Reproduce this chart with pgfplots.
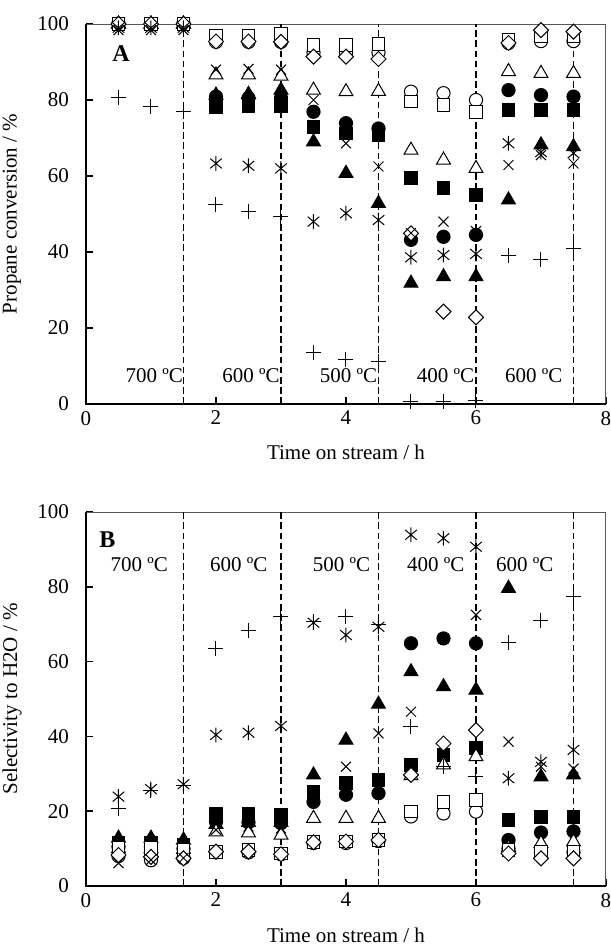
\documentclass[border=0pt]{standalone}
\usepackage{fontspec}
\setmainfont{Liberation Serif}
\usepackage{pgfplots}
\pgfplotsset{compat=1.18}
\usepackage{pgfplotstable}

\pgfdeclareplotmark{ast}{%
  \pgfpathmoveto{\pgfqpoint{0pt}{\pgfplotmarksize}}%
  \pgfpathlineto{\pgfqpoint{0pt}{-\pgfplotmarksize}}%
  \pgfpathmoveto{\pgfqpoint{-0.78\pgfplotmarksize}{0.66\pgfplotmarksize}}%
  \pgfpathlineto{\pgfqpoint{0.78\pgfplotmarksize}{-0.66\pgfplotmarksize}}%
  \pgfpathmoveto{\pgfqpoint{-0.78\pgfplotmarksize}{-0.66\pgfplotmarksize}}%
  \pgfpathlineto{\pgfqpoint{0.78\pgfplotmarksize}{0.66\pgfplotmarksize}}%
  \pgfusepathqstroke}

\pgfplotstableread{
t    osq   oci   odi   otr   cr    ast   pl    fsq   fci   ftr
0.5  100   100   100   100   98.4  99    80.7  100   100   100
1.0  100   100   100   100   98.4  99    78.2  100   100   100
1.5  100   100   100   100   98.4  99    76.9  100   100   100
2.0  97.0  95.3  95.4  86.6  88.0  63.3  52.5  78.2  80.9  81.3
2.5  97.0  95.3  95.4  86.6  88.2  62.7  50.6  78.5  80.5  81.5
3.0  97.4  95.3  95.3  86.3  88.0  62.0  49.3  78.5  80.5  82.6
3.5  94.5  92.5  91.4  82.6  80.0  48.0  13.6  73.0  76.9  69.0
4.0  94.5  92.5  91.4  82.2  68.6  50.2  11.6  71.2  73.9  60.7
4.5  94.7  92.5  90.8  82.3  62.5  48.4  11.1  70.8  72.5  52.8
5.0  79.6  82.2  44.9  66.8  45.0  38.6  0.6   59.4  43.2  31.8
5.5  78.7  81.8  24.3  64.2  48.0  39.2  0.6   56.8  44.0  33.5
6.0  76.9  80.0  22.8  62.0  45.5  39.5  0.9   55.0  44.5  33.5
6.5  95.9  95.0  95.0  87.5  62.9  68.6  39.0  77.4  82.6  53.7
7.0  96.7  95.5  98.4  87.0  65.5  66.3  38.1  77.4  81.3  68.2
7.5  96.7  95.5  98.0  87.0  63.3  66.0  41.0  77.4  80.9  67.7
}\dataA

\pgfplotstableread{
t    osq   oci   odi   otr   cr    ast   pl    fsq   fci   ftr
0.5  10.1  8.0   8.3   10.0  6.1   23.9  20.8  11.4  10.5  12.8
1.0  10.1  6.9   7.8   10.0  7.0   25.9  25.5  11.4  10.5  12.8
1.5  9.6   7.5   7.4   9.8   7.5   27.2  27.0  11.0  10.0  12.3
2.0  9.2   9.0   9.2   14.5  15.0  40.4  63.5  19.4  17.2  16.5
2.5  9.6   9.0   9.2   14.2  15.9  41.0  68.4  19.4  17.0  17.0
3.0  8.7   8.5   8.5   13.6  15.4  42.8  72.0  19.0  16.8  17.0
3.5  11.7  11.5  11.7  18.1  23.0  70.4  70.7  25.2  22.5  29.7
4.0  11.9  11.5  11.9  18.1  31.9  67.1  72.0  27.6  24.4  39.0
4.5  12.3  12.0  12.3  18.1  40.8  69.3  69.8  28.3  24.8  48.6
5.0  19.9  18.6  29.7  29.5  46.6  93.9  42.6  32.4  64.9  57.3
5.5  22.5  19.4  38.1  32.4  66.2  93.0  31.9  35.0  66.2  53.3
6.0  23.0  19.9  41.7  34.6  72.5  90.7  29.2  36.8  64.9  52.4
6.5  9.6   10.0  8.7   10.3  38.6  28.8  65.1  17.6  12.3  79.6
7.0  9.2   9.0   7.4   11.4  31.9  33.2  71.1  18.5  14.3  29.2
7.5  9.2   9.0   7.4   11.8  31.4  36.4  77.4  18.5  14.6  29.7
}\dataB

\pgfplotsset{
  myaxis/.style={
    scale only axis, width=260pt,
    xmin=0, xmax=8, ymin=0, ymax=100,
    xtick={0,2,4,6,8}, ytick={0,20,40,60,80,100},
    tick align=inside, xtick pos=bottom, ytick pos=left,
    major tick length=3.3pt,
    tick style={black, line width=0.8pt},
    axis line style={draw=gray!70!black, line width=0.5pt},
    /pgf/number format/assume math mode=true,
    ticklabel style={font=\fontsize{10.5}{12}\selectfont},
    yticklabel style={xshift=-5pt},
    label style={font=\fontsize{10.5}{12}\selectfont},
    clip=false,
  },
  pt/.style={only marks, black, line width=0.5pt},
  vl/.style={no marks, black, line width=0.9pt, dash pattern=on 3.3pt off 1.8pt},
}
\tikzset{tl/.style={font=\fontsize{10.5}{12}\selectfont, inner sep=0pt}}

\newcommand{\drawseries}[1]{%
  \addplot[pt, mark=triangle*, mark size=4pt, mark options={fill=black}] table[x=t,y=ftr]{#1};
  \addplot[pt, mark=*, mark size=3.3pt, mark options={fill=black}] table[x=t,y=fci]{#1};
  \addplot[pt, mark=square*, mark size=3.2pt, mark options={fill=black}] table[x=t,y=fsq]{#1};
  \addplot[pt, mark=triangle*, mark size=4pt, mark options={fill=white}] table[x=t,y=otr]{#1};
  \addplot[pt, mark=*, mark size=3.3pt, mark options={fill=white}] table[x=t,y=oci]{#1};
  \addplot[pt, mark=square*, mark size=3.2pt, mark options={fill=white}] table[x=t,y=osq]{#1};
  \addplot[pt, mark=square*, mark size=2.65pt, mark options={fill=white, rotate=45}] table[x=t,y=odi]{#1};
  \addplot[pt, mark=x, mark size=3.5pt] table[x=t,y=cr]{#1};
  \addplot[pt, mark=ast, mark size=3.7pt] table[x=t,y=ast]{#1};
  \addplot[pt, mark=+, mark size=3.75pt] table[x=t,y=pl]{#1};
  \addplot[vl] coordinates {(1.5,0) (1.5,100)};
  \addplot[vl] coordinates {(3,0) (3,100)};
  \addplot[vl] coordinates {(4.5,0) (4.5,100)};
  \addplot[vl] coordinates {(6,0) (6,100)};
  \addplot[vl] coordinates {(7.5,0) (7.5,100)};
  \draw[black, line width=0.9pt] (rel axis cs:0,1) -- (rel axis cs:0,0) -- (rel axis cs:1,0);
}

\begin{document}
\begin{tikzpicture}
\begin{axis}[myaxis, height=190pt, at={(0,0)}, anchor=south west,
  xlabel={Time on stream / h}, ylabel={Propane conversion / \%},
  xlabel style={at={(axis description cs:0.5,-0.126)}, anchor=center},
  ylabel style={at={(axis description cs:-0.1423,0.5)}, anchor=center}]
  \drawseries{\dataA}
  \node[font=\bfseries\fontsize{12}{14}\selectfont] at (axis cs:0.54,92.3) {A};
  \node[tl] at (axis cs:1.05,7.6) {700 ºC};
  \node[tl] at (axis cs:2.54,7.6) {600 ºC};
  \node[tl] at (axis cs:4.04,7.6) {500 ºC};
  \node[tl] at (axis cs:5.53,7.6) {400 ºC};
  \node[tl] at (axis cs:6.89,7.6) {600 ºC};
\end{axis}
\begin{axis}[myaxis, height=187pt, at={(0,-241pt)}, anchor=south west,
  xlabel={Time on stream / h}, ylabel={Selectivity to H2O / \%},
  xlabel style={at={(axis description cs:0.5,-0.131)}, anchor=center},
  ylabel style={at={(axis description cs:-0.1423,0.5)}, anchor=center}]
  \drawseries{\dataB}
  \node[font=\bfseries\fontsize{12}{14}\selectfont] at (axis cs:0.33,92.5) {B};
  \node[tl] at (axis cs:0.82,85.8) {700 ºC};
  \node[tl] at (axis cs:2.35,85.8) {600 ºC};
  \node[tl] at (axis cs:3.93,85.8) {500 ºC};
  \node[tl] at (axis cs:5.38,85.8) {400 ºC};
  \node[tl] at (axis cs:6.75,85.8) {600 ºC};
\end{axis}
\pgfresetboundingbox
\path[use as bounding box] (-43pt,-273pt) rectangle (262.5pt,202pt);
\end{tikzpicture}
\end{document}
